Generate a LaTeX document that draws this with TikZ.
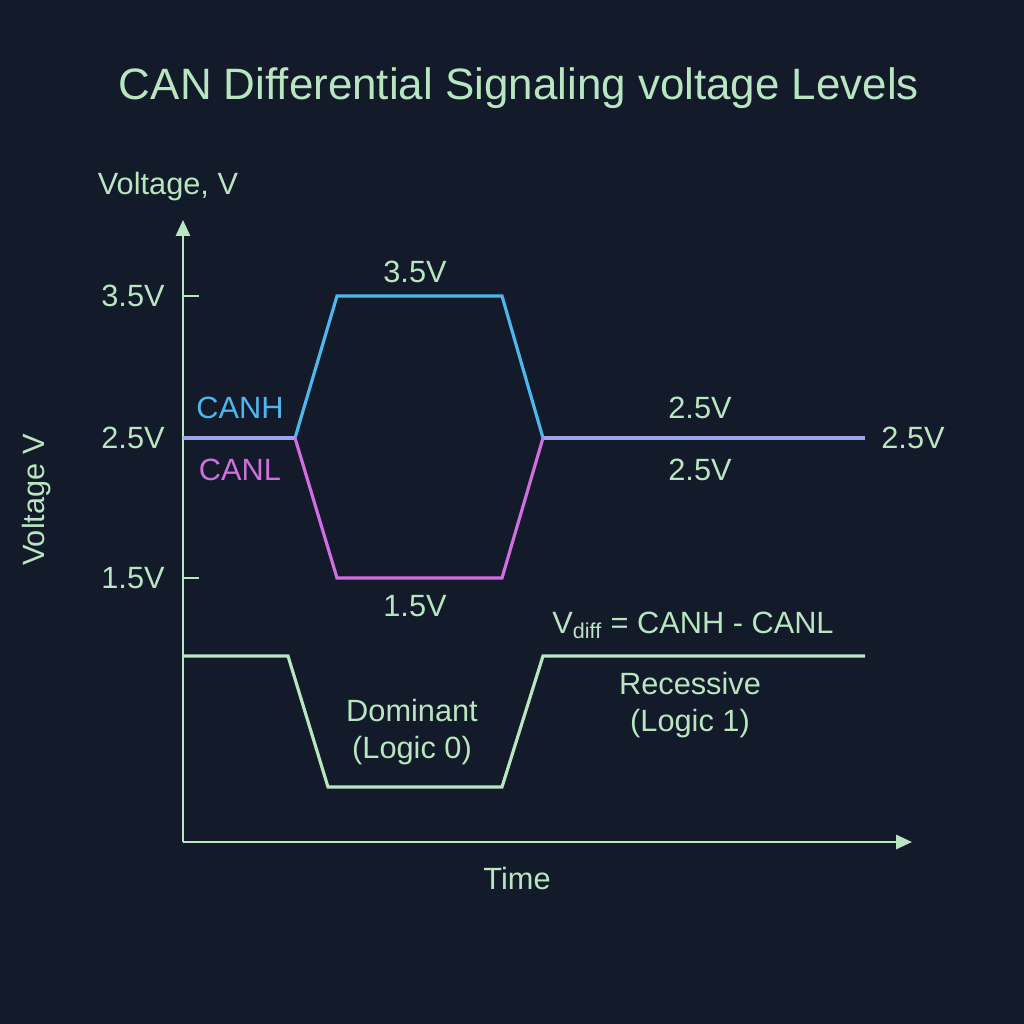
\documentclass[tikz,border=0pt]{standalone}
\usepackage{fontspec}
\setmainfont{Liberation Sans}
\usetikzlibrary{arrows.meta,positioning}
\definecolor{bgc}{HTML}{131A2A}
\definecolor{grn}{HTML}{B8E6C0}
\definecolor{canh}{HTML}{4CB8EE}
\definecolor{canl}{HTML}{D070E0}
\definecolor{mix}{HTML}{9AA4F0}
\tikzset{
	lbl/.style={text=grn, font=\fontsize{17.5}{21}\selectfont, inner sep=1pt},
	axis/.style={draw=grn, line width=1.3pt},
	sig/.style={line width=1.8pt, line join=miter},
}
\begin{document}
\begin{tikzpicture}[x=0.02cm, y=-0.02cm]
	\fill[bgc] (0,0) rectangle (1024,1024);
	\useasboundingbox (0,0) rectangle (1024,1024);
	% title
	\node[lbl, font=\fontsize{25}{30}\selectfont] (title) at (519,88) {CAN Differential Signaling voltage Levels};
	% axes
	\coordinate (o) at (183,842);
	\coordinate (ytop) at (183,220);
	\coordinate (xend) at (912,842);
	\draw[axis, -{Triangle[length=9pt,width=8pt]}] (o) -- (ytop);
	\draw[axis, -{Triangle[length=9pt,width=8pt]}] (o) -- (xend);
	\node[lbl] (yname) at (168,187) {Voltage, V};
	\node[lbl, rotate=90] (yside) at (37,500) {Voltage V};
	\node[lbl] (time) at (517,878) {Time};
	% ticks
	\foreach \y/\v in {296/3.5V, 438/2.5V, 578/1.5V} {
		\draw[axis] (183,\y) -- (199,\y);
		\node[lbl] (tick\v) at (133,\y) {\v};
	}
	% CANH / CANL
	\coordinate (s1) at (295,438);
	\coordinate (s2) at (543,438);
	\draw[sig, mix] (183,438) -- (s1);
	\draw[sig, mix] (s2) -- (865,438);
	\draw[sig, canh] (s1) -- (337,296) -- (502,296) -- (s2);
	\draw[sig, canl] (s1) -- (337,578) -- (502,578) -- (s2);
	\node[lbl, text=canh] (hname) at (240,408) {CANH};
	\node[lbl, text=canl] (lname) at (240,470) {CANL};
	\node[lbl] (hhigh) at (415,272) {3.5V};
	\node[lbl] (llow) at (415,606) {1.5V};
	\node[lbl] (hrec) at (700,408) {2.5V};
	\node[lbl] (lrec) at (700,470) {2.5V};
	\node[lbl] (rend) at (913,438) {2.5V};
	% differential
	\draw[sig, grn] (183,656) -- (288,656) -- (328,787) -- (502,787) -- (543,656) -- (865,656);
	\node[lbl] (vdiff) at (693,625) {V\textsubscript{diff} = CANH - CANL};
	\node[lbl, align=center] (rec) at (690,705) {Recessive\\(Logic 1)};
	\node[lbl, align=center] (dom) at (412,732) {Dominant\\(Logic 0)};
\end{tikzpicture}
\end{document}
